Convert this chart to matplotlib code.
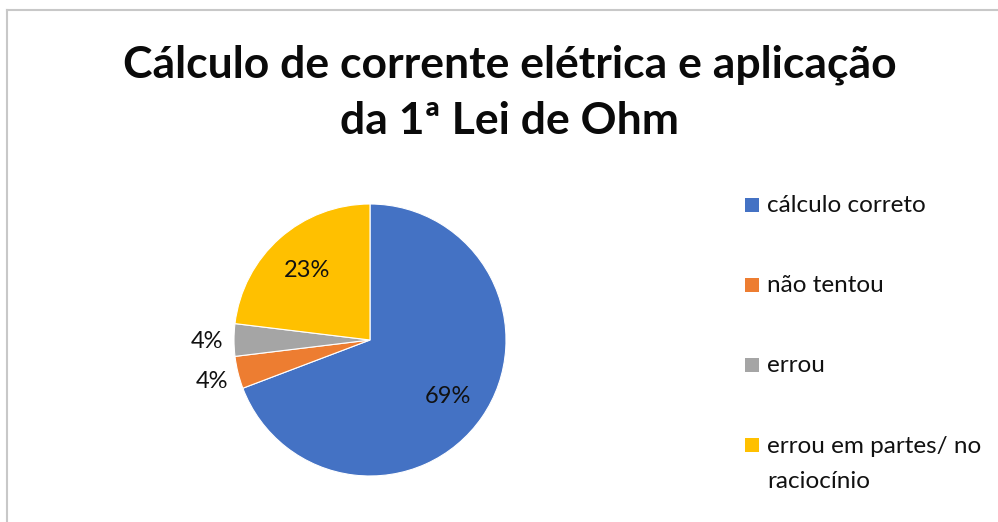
import numpy as np
import matplotlib.pyplot as plt
from matplotlib.patches import Rectangle
from matplotlib.lines import Line2D

# respostas da turma (contagem de alunos)
categorias = ['cálculo correto', 'não tentou', 'errou', 'errou em partes/ no\nraciocínio']
alunos = [18, 1, 1, 6]
cores = ['#4472C4', '#ED7D31', '#A5A5A5', '#FFC000']

titulo = 'Cálculo de corrente elétrica e aplicação\nda 1ª Lei de Ohm'

plt.rcParams['font.family'] = ['Lato', 'DejaVu Sans']

W, H = 998, 522
fig = plt.figure(figsize=(W / 100, H / 100), dpi=100)

# moldura do gráfico (só aparecem os lados de cima e da esquerda)
fig.add_artist(Line2D([7 / W, 1], [1 - 10 / H, 1 - 10 / H], color='#c8c8c8', lw=1.5))
fig.add_artist(Line2D([7 / W, 7 / W], [0, 1 - 10 / H], color='#c8c8c8', lw=1.5))

fig.text(510 / W, 1 - 93 / H, titulo, ha='center', va='center',
         fontsize=32, fontweight='bold', linespacing=1.5, color='#0a0a0a')

# pizza: centro (370, 340), raio 136 px
cx, cy, r = 370, 340, 136
ax = fig.add_axes([(cx - r) / W, (H - cy - r) / H, 2 * r / W, 2 * r / H])
wedges, _ = ax.pie(alunos, colors=cores, startangle=90, counterclock=False,
                   wedgeprops=dict(edgecolor='white', linewidth=0.8))
ax.set_xlim(-1, 1)
ax.set_ylim(-1, 1)
ax.set_aspect('equal')
ax.axis('off')

total = sum(alunos)
for w, n in zip(wedges, alunos):
    pct = n / total
    ang = np.deg2rad((w.theta1 + w.theta2) / 2)
    dist = 0.7 if pct > 0.1 else 1.2
    ax.text(dist * np.cos(ang), dist * np.sin(ang), f'{pct:.0%}',
            ha='center', va='center_baseline', fontsize=17, color='#111111')

# legenda
ly = 205
for cat, cor in zip(categorias, cores):
    fig.add_artist(Rectangle((745 / W, 1 - (ly + 7) / H), 14 / W, 14 / H,
                             facecolor=cor, edgecolor='none'))
    if '\n' in cat:
        fig.text(767 / W, 1 - (ly - 9) / H, cat, ha='left', va='top',
                 fontsize=17.5, color='#111111', linespacing=1.85)
    else:
        fig.text(767 / W, 1 - ly / H, cat, ha='left', va='center',
                 fontsize=17.5, color='#111111')
    ly += 80

fig.savefig('out.png', dpi=100)
